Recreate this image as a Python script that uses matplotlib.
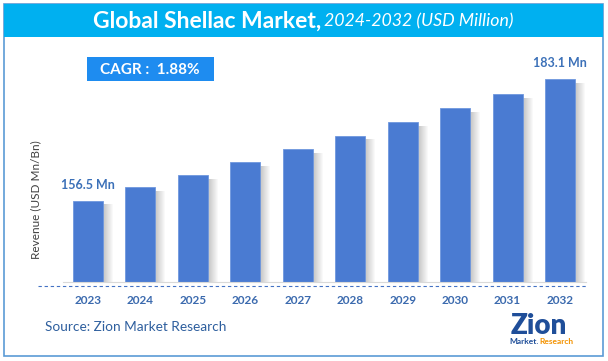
import matplotlib.pyplot as plt
from matplotlib.patches import Rectangle
from matplotlib.lines import Line2D

# data
years = ['2023', '2024', '2025', '2026', '2027', '2028', '2029', '2030', '2031', '2032']
revenue = [156.5, 159.4, 162.0, 164.9, 167.7, 170.7, 173.7, 176.7, 179.8, 183.1]
first_label = '156.5 Mn'
last_label = '183.1 Mn'
cagr_text = 'CAGR :  1.88%'

W, H = 608, 361
plt.rcParams['font.family'] = ['Lato', 'DejaVu Sans']

fig = plt.figure(figsize=(W / 100, H / 100), dpi=100)


def fx(x):
    return x / W


def fy(y):
    return 1 - y / H


# outer frame and title band
fig.patches.append(Rectangle((fx(4), fy(356)), fx(599), (356 - 4) / H, transform=fig.transFigure,
                             fill=False, edgecolor='#5B9BD5', lw=1.2))
fig.patches.append(Rectangle((fx(4), fy(37)), fx(599), 33 / H, transform=fig.transFigure,
                             facecolor='#00B0F0', edgecolor='#00B0F0', lw=0))
fig.text(fx(321), fy(21), 'Global Shellac Market,', color='white', fontsize=16.5,
         fontweight='bold', ha='right', va='center')
fig.text(fx(324), fy(21.5), '2024-2032 (USD Million)', color='white', fontsize=12.8,
         fontstyle='italic', ha='left', va='center')

# chart axes
ax = fig.add_axes([fx(63), fy(282), (586 - 63) / W, (282 - 45) / H])
x = list(range(len(years)))
px = 1 / 52.37
bw = 30 * px
ymin = 138.7
ax.set_xlim(-0.477, 9.496)
ax.set_ylim(ymin, ymin + (282 - 45) * 0.2186)

# soft shadow on the right side of each bar
for k in range(10):
    ax.bar([i + bw / 2 + k * px for i in x], [v - ymin - 0.8 for v in revenue], width=px,
           bottom=ymin, align='edge', color='#7F7F7F', alpha=0.45 * (1 - k / 10), lw=0)
ax.bar(x, [v - ymin for v in revenue], width=bw, bottom=ymin, color='#4A7BD2',
       edgecolor='#6F97DE', lw=0.6)

ax.text(x[0], revenue[0] + 2.2, first_label, ha='center', va='bottom', color='#3B70B8',
        fontsize=9, fontweight='bold')
ax.text(x[-1], revenue[-1] + 2.2, last_label, ha='center', va='bottom', color='#3B70B8',
        fontsize=9, fontweight='bold')

for s in ['top', 'right', 'left']:
    ax.spines[s].set_visible(False)
ax.spines['bottom'].set_color('#D9D9D9')
ax.set_yticks([])
ax.set_xticks(x)
ax.set_xticklabels(years, fontsize=8.5, fontweight='bold', color='#3B6AAE')
ax.tick_params(axis='x', length=0, pad=9)
ax.patch.set_alpha(0)

# dashed separator under the bars
fig.lines.append(Line2D([fx(38), fx(588)], [fy(286), fy(286)], transform=fig.transFigure,
                        color='#4472C4', lw=0.8, ls=(0, (3, 2.5))))

fig.text(fx(36), fy(200), 'Revenue (USD Mn/Bn)', rotation=90, ha='center', va='center',
         color='#404040', fontsize=8.5)

# CAGR box
fig.patches.append(Rectangle((fx(87), fy(81)), (214 - 87) / W, 24 / H, transform=fig.transFigure,
                             facecolor='#1E8CF0', lw=0))
fig.text(fx(150), fy(69.5), cagr_text, color='white', fontsize=11, fontweight='bold',
         ha='center', va='center')

fig.text(fx(45), fy(327), 'Source: Zion Market Research', color='#2E5F9E', fontsize=9.8,
         ha='left', va='center')

# logo (text approximation)
fig.text(fx(539), fy(326), 'Zion', color='#1F4E99', fontsize=20, fontweight='heavy',
         ha='center', va='center')
fig.text(fx(539), fy(342), 'Market.', color='#1F4E99', fontsize=6, fontweight='bold',
         ha='right', va='center')
fig.text(fx(539), fy(342), 'Research', color='#F39200', fontsize=6, fontweight='bold',
         ha='left', va='center')

fig.savefig('out.png', dpi=100)
